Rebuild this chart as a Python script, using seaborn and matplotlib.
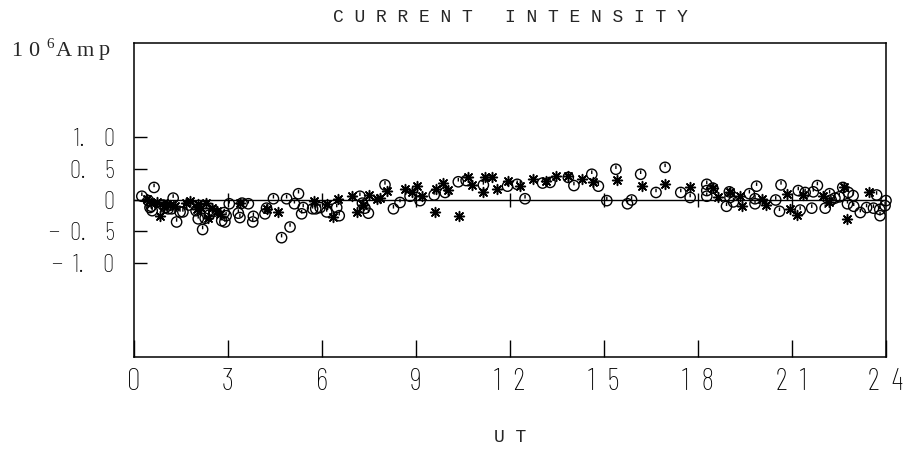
import numpy as np
import pandas as pd
import matplotlib
matplotlib.use("Agg")
import matplotlib.pyplot as plt
import matplotlib.path as mpath
import seaborn as sns

# ---- data (UT hours, 10^6 Amp) ----
circle_x = [0.25, 0.46, 0.51, 0.55, 0.58, 0.64, 0.93, 1.00, 1.09, 1.20, 1.25, 1.36, 1.47, 1.56,
            1.75, 1.98, 2.05, 2.19, 2.27, 2.40, 2.55, 2.80, 2.88, 2.90, 2.94, 3.04, 3.33, 3.38,
            3.45, 3.65, 3.79, 3.81, 4.18, 4.23, 4.45, 4.71, 4.87, 4.98, 5.12, 5.25, 5.35, 5.40,
            5.70, 5.80, 5.94, 6.15, 6.47, 6.55, 7.21, 7.29, 7.37, 7.48, 8.01, 8.28, 8.49, 8.81,
            9.13, 9.58, 9.93, 10.35, 10.60, 11.15, 11.92, 12.23, 12.48, 13.04, 13.28, 13.86,
            14.04, 14.61, 14.82, 15.09, 15.38, 15.75, 15.88, 16.17, 16.66, 16.95, 17.45, 17.75,
            18.28, 18.28, 18.28, 18.47, 18.91, 19.00, 19.02, 19.13, 19.64, 19.82, 19.82, 19.87,
            20.48, 20.60, 20.65, 21.20, 21.26, 21.42, 21.63, 21.68, 21.81, 22.06, 22.20, 22.25,
            22.37, 22.51, 22.62, 22.77, 22.80, 22.95, 22.97, 23.18, 23.38, 23.60, 23.70, 23.80,
            23.81, 23.97, 24.00]
circle_y = [0.06, -0.01, -0.12, -0.10, -0.17, 0.20, -0.08, -0.12, -0.14, -0.14, 0.03, -0.35, -0.19, -0.19,
            -0.08, -0.17, -0.30, -0.47, -0.29, -0.24, -0.18, -0.33, -0.20, -0.35, -0.25, -0.06, -0.21, -0.28,
            -0.05, -0.06, -0.35, -0.26, -0.22, -0.13, 0.02, -0.60, 0.02, -0.43, -0.06, 0.10, -0.22, -0.12,
            -0.14, -0.14, -0.12, -0.19, -0.12, -0.25, 0.06, -0.05, -0.13, -0.21, 0.24, -0.14, -0.04, 0.06,
            -0.01, 0.08, 0.12, 0.29, 0.31, 0.24, 0.22, 0.25, 0.02, 0.27, 0.28, 0.36,
            0.23, 0.41, 0.22, -0.01, 0.49, -0.06, 0.00, 0.41, 0.12, 0.52, 0.12, 0.04,
            0.25, 0.15, 0.06, 0.19, -0.10, 0.13, 0.04, -0.03, 0.10, 0.02, -0.06, 0.22,
            0.00, -0.18, 0.24, 0.15, -0.16, 0.12, -0.13, 0.13, 0.23, -0.13, 0.10, 0.00,
            0.03, 0.05, 0.20, -0.06, 0.12, 0.07, -0.10, -0.20, -0.12, -0.13, 0.08, -0.15,
            -0.25, -0.09, -0.01]

star_x = [0.40, 0.55, 0.73, 0.83, 0.95, 1.04, 1.15, 1.30, 1.65, 1.79, 2.00, 2.05, 2.15, 2.30, 2.37,
          2.50, 2.64, 2.75, 3.38, 4.23, 4.61, 5.76, 6.15, 6.34, 6.52, 6.95, 7.11, 7.32, 7.51, 7.75,
          7.85, 8.07, 8.65, 8.86, 9.04, 9.18, 9.61, 9.64, 9.87, 10.03, 10.38, 10.67, 10.78, 11.15,
          11.20, 11.42, 11.57, 11.95, 12.32, 12.72, 13.15, 13.47, 13.84, 14.29, 14.66, 15.42, 16.20,
          16.95, 17.75, 18.49, 18.65, 19.02, 19.34, 19.40, 20.03, 20.17, 20.83, 20.94, 21.15, 21.36,
          21.98, 22.19, 22.66, 22.75, 23.47]
star_y = [0.02, -0.05, -0.03, -0.26, -0.10, -0.06, -0.08, -0.10, -0.05, -0.01, -0.15, -0.06, -0.13, -0.05, -0.29,
          -0.12, -0.17, -0.22, -0.05, -0.14, -0.19, -0.01, -0.06, -0.27, 0.02, 0.06, -0.19, -0.08, 0.08, 0.02,
          0.03, 0.15, 0.17, 0.12, 0.22, 0.07, -0.19, 0.17, 0.27, 0.16, -0.26, 0.36, 0.24, 0.12,
          0.36, 0.36, 0.17, 0.31, 0.22, 0.34, 0.31, 0.39, 0.38, 0.33, 0.28, 0.32, 0.23,
          0.26, 0.20, 0.19, 0.04, 0.12, 0.07, -0.10, 0.02, -0.08, 0.10, -0.14, -0.24, 0.08,
          0.07, -0.03, 0.20, -0.31, 0.12]

x_ticks = [0, 3, 6, 9, 12, 15, 18, 21, 24]
x_ticklabels = ["0", "3", "6", "9", "1  2", "1  5", "1  8", "2  1", "2  4"]
y_ticks = [1.0, 0.5, 0.0, -0.5, -1.0]
y_ticklabels = ["1.    0", "0.    5", "0", "\u2212  0.    5", "\u2212  1.    0"]
unit_chars = [("1", 11, 16), ("0", 28, 16), ("6", 46, 11), ("A", 56, 16), ("m", 77, 16), ("p", 99, 16)]

# ---- fonts ----
serif = "Liberation Serif"
mono = "Liberation Mono"
narrow = ["Barlow Condensed", "DejaVu Sans"]

sns.set_style("white")
plt.rcParams["font.family"] = [serif, "DejaVu Sans"]

fig = plt.figure(figsize=(9.09, 4.54), dpi=100)
ax = fig.add_axes([134 / 909, 1 - 357 / 454, (886 - 134) / 909, (357 - 43) / 454])

# circle-with-tick marker
circ = mpath.Path.unit_circle()
tick = mpath.Path([[0, 0.05], [0, 0.75]], [mpath.Path.MOVETO, mpath.Path.LINETO])
circ_marker = mpath.Path.make_compound_path(circ, tick)

df_c = pd.DataFrame({"UT": circle_x, "I": circle_y})
df_s = pd.DataFrame({"UT": star_x, "I": star_y})

sns.scatterplot(data=df_c, x="UT", y="I", marker=circ_marker, s=55,
                facecolor="none", edgecolor="black", linewidth=1.0, ax=ax,
                clip_on=False, zorder=3)
sns.scatterplot(data=df_s, x="UT", y="I", marker=(8, 2, 0), s=50,
                color="black", edgecolor="black", linewidth=1.1, ax=ax,
                clip_on=False, zorder=3)

# zero line with crossing ticks
ax.axhline(0, color="black", lw=1.0, zorder=2)
ax.vlines(x_ticks[1:-1], -0.11, 0.11, color="black", lw=1.0, zorder=2)

ax.set_xlim(0, 24)
ax.set_ylim(-2.5, 2.5)
ax.set_xticks(x_ticks)
ax.set_xticklabels(x_ticklabels, fontfamily=narrow, fontsize=22, fontweight="light")
ax.set_yticks(y_ticks)
ax.set_yticklabels(y_ticklabels, fontfamily=narrow, fontsize=18, fontweight="light")
ax.tick_params(axis="x", direction="in", length=12, width=1.0, pad=8, colors="black",
               bottom=True, top=False)
ax.tick_params(axis="y", direction="in", length=9, width=1.0, pad=14, colors="black",
               left=True, right=False)
for s in ax.spines.values():
    s.set_visible(True)
    s.set_color("black")
    s.set_linewidth(1.1)
ax.set_xlabel("")
ax.set_ylabel("")

# texts
fig.text(510 / 909, 1 - 18 / 454, "C U R R E N T   I N T E N S I T Y",
         ha="center", va="center", fontsize=13, fontfamily=[mono, "DejaVu Sans Mono"])
fig.text(510 / 909, 1 - 437 / 454, "U T", ha="center", va="center", fontsize=13,
         fontfamily=[mono, "DejaVu Sans Mono"])
for ch, px, fs in unit_chars:
    py = 44 if ch == "6" else 51
    fig.text(px / 909, 1 - py / 454, ch, ha="left", va="center", fontsize=fs,
             fontfamily=[serif, "DejaVu Sans"])

fig.savefig("out.png", dpi=100)
